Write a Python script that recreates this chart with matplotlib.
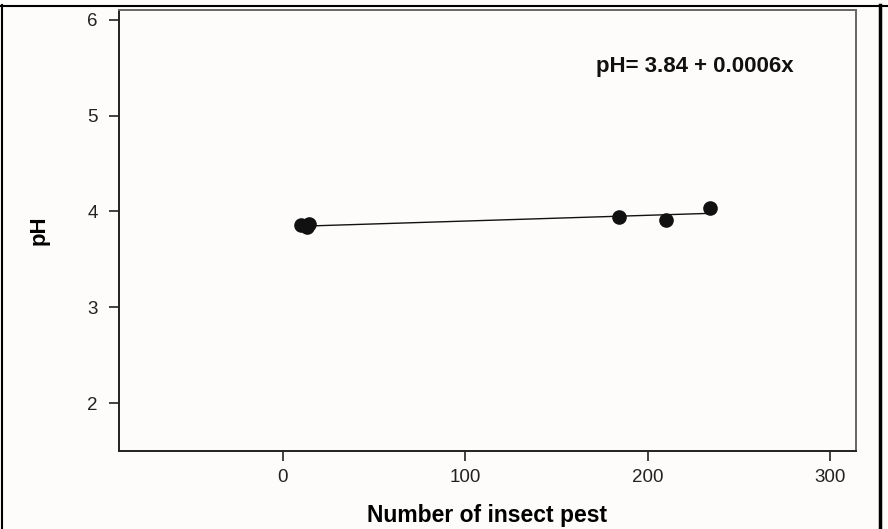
import numpy as np
import matplotlib
matplotlib.use('Agg')
import matplotlib.pyplot as plt
from matplotlib.lines import Line2D

plt.rcParams['font.family'] = ['Liberation Sans', 'DejaVu Sans']

# data
pest = [10, 13, 14, 184, 210, 234]
ph = [3.86, 3.84, 3.87, 3.94, 3.91, 4.04]
intercept = 3.84
slope = 0.0006
x_ticks = [0, 100, 200, 300]
y_ticks = [2, 3, 4, 5, 6]

fig = plt.figure(figsize=(8.88, 5.29), dpi=100)
fig.patch.set_facecolor('#fdfcfa')
ax = fig.add_axes([0.1337, 0.1469, 0.8302, 0.8342])
ax.set_facecolor('#fdfcfa')

# regression line over the data range
xs = np.array([min(pest), max(pest)])
ax.plot(xs, intercept + slope * xs, color='#111111', lw=1.0, zorder=2)
ax.plot(pest, ph, 'o', color='#111111', markersize=9.5, zorder=3)

ax.set_xlim(-90, 314)
ax.set_ylim(1.5, 6.1)
ax.set_xticks(x_ticks)
ax.set_yticks(y_ticks)
ax.tick_params(axis='both', direction='out', length=7, width=1.2,
               colors='#222222', labelsize=13.5, top=False, right=False)
ax.tick_params(axis='x', pad=6)
ax.tick_params(axis='y', pad=8)

for side in ['left', 'bottom']:
    ax.spines[side].set_color('#222222')
    ax.spines[side].set_linewidth(1.4)
for side in ['top', 'right']:
    ax.spines[side].set_color('#666666')
    ax.spines[side].set_linewidth(1.4)

ax.set_xlabel('Number of insect pest', fontsize=16.5, fontweight='bold', labelpad=13)
ax.set_ylabel('pH', fontsize=16, fontweight='bold', labelpad=27)

ax.text(171.8, 5.454, 'pH= 3.84 + 0.0006x', fontsize=16, fontweight='bold',
        color='#111111', ha='left', va='baseline')

# outer frame of the figure image
W, H = 888, 529
fig.add_artist(Line2D([0, 1], [1 - 5.5 / H, 1 - 5.5 / H], transform=fig.transFigure,
                      color='black', lw=1.5))
fig.add_artist(Line2D([1.5 / W, 1.5 / W], [0, 1 - 5 / H], transform=fig.transFigure,
                      color='black', lw=1.5))
fig.add_artist(Line2D([879.5 / W, 879.5 / W], [0, 1 - 5 / H], transform=fig.transFigure,
                      color='black', lw=2.5))

fig.savefig('out.png', dpi=100, facecolor=fig.get_facecolor())
